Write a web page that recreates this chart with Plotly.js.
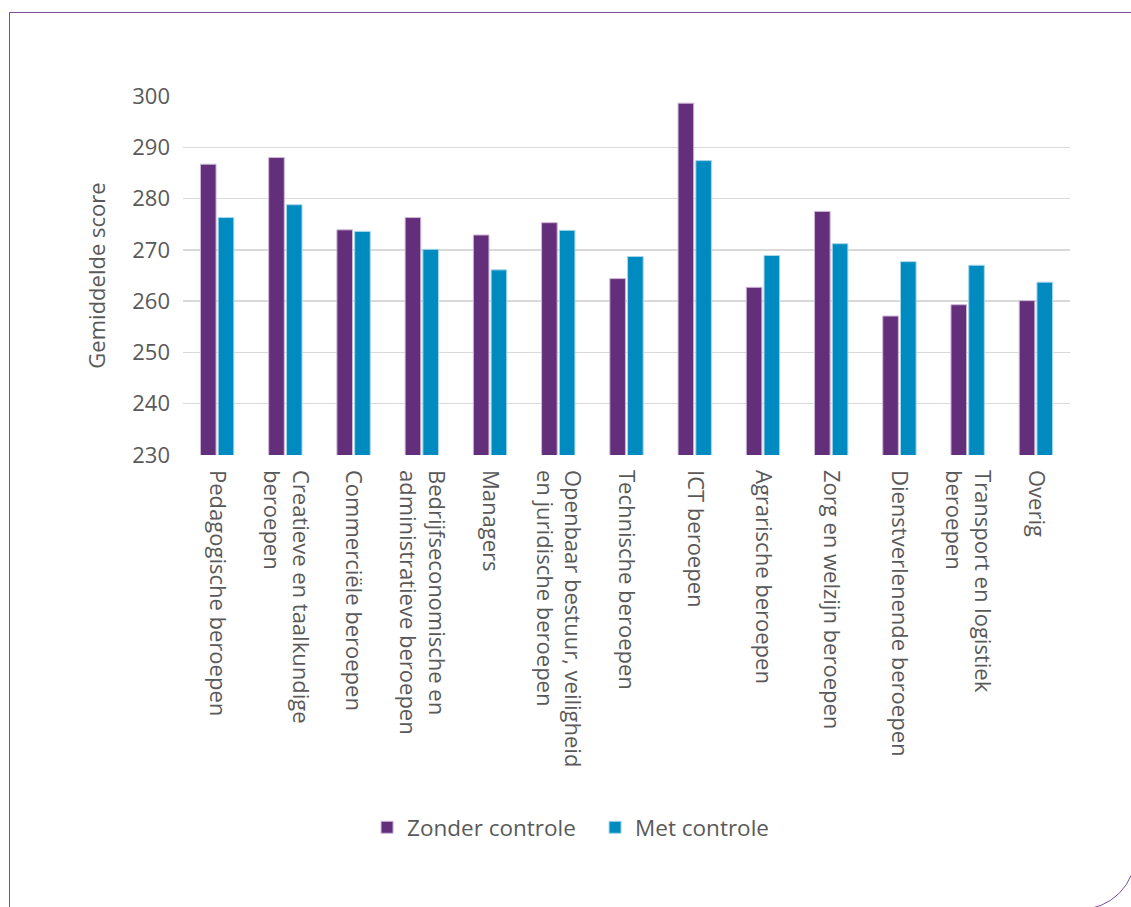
<!DOCTYPE html>
<html>
<head>
<meta charset="utf-8">
<script src="https://cdn.plot.ly/plotly-3.0.1.min.js"></script>
<style>
  html, body { margin: 0; padding: 0; background: #ffffff; overflow: hidden; }
  #frame {
    position: absolute; left: 9px; top: 12px; width: 1127px; height: 898px;
    border: 1.5px solid #7a4e9a; border-bottom-right-radius: 56px; box-sizing: border-box;
  }
  #chart { position: absolute; left: 0; top: 0; width: 1131px; height: 907px; }
</style>
</head>
<body>
<div id="frame"></div>
<div id="chart"></div>
<script>
const categories = [
  "Pedagogische beroepen",
  "Creatieve en taalkundige<br>beroepen",
  "Commerciële beroepen",
  "Bedrijfseconomische en<br>administratieve beroepen",
  "Managers",
  "Openbaar bestuur, veiligheid<br>en juridische beroepen",
  "Technische beroepen",
  "ICT beroepen",
  "Agrarische beroepen",
  "Zorg en welzijn beroepen",
  "Dienstverlenende beroepen",
  "Transport en logistiek<br>beroepen",
  "Overig"
];
const zonderControle = [286.7, 288.0, 273.9, 276.3, 272.9, 275.3, 264.4, 298.6, 262.7, 277.5, 257.1, 259.3, 260.1];
const metControle    = [276.3, 278.8, 273.6, 270.1, 266.1, 273.8, 268.7, 287.4, 268.9, 271.2, 267.7, 267.0, 263.7];
const seriesNames = ["Zonder controle", "Met controle"];
const yTicks = [230, 240, 250, 260, 270, 280, 290, 300];

const FONT = "'Open Sans', 'Noto Sans', sans-serif";
const TXT = "#595959";

const traces = [
  {
    type: "bar", name: seriesNames[0], x: categories, y: zonderControle,
    marker: { color: "#642f7a", line: { color: "#cbb8d6", width: 1 } }
  },
  {
    type: "bar", name: seriesNames[1], x: categories, y: metControle,
    marker: { color: "#008bc0", line: { color: "#a6d7ea", width: 1 } }
  }
];

const layout = {
  width: 1131, height: 907,
  paper_bgcolor: "rgba(0,0,0,0)", plot_bgcolor: "rgba(0,0,0,0)",
  margin: { l: 183, r: 61, t: 96, b: 452 },
  barmode: "group", bargap: 0.48, bargroupgap: 0.12,
  font: { family: FONT, color: TXT, size: 22 },
  showlegend: true,
  legend: {
    orientation: "h", x: 0.2075, xanchor: "left", y: -1.038, yanchor: "middle",
    font: { family: FONT, size: 22.5, color: TXT }, itemwidth: 30,
    entrywidth: 183, entrywidthmode: "pixels"
  },
  xaxis: {
    type: "category", tickangle: 90, showgrid: false, zeroline: false,
    showline: false, ticks: "", ticklabelstandoff: 14,
    tickfont: { family: FONT, size: 22, color: TXT },
    automargin: false
  },
  yaxis: {
    range: [230, 300], tickvals: yTicks, ticktext: yTicks.map(String),
    showgrid: true, gridcolor: "#d9d9d9", gridwidth: 1.5, zeroline: false,
    showline: false, ticks: "", ticklabelstandoff: 12,
    tickfont: { family: FONT, size: 22, color: TXT },
    title: { text: "Gemiddelde score", font: { family: FONT, size: 22, color: TXT }, standoff: 20 },
    automargin: false
  }
};

Plotly.newPlot("chart", traces, layout, { displayModeBar: false, staticPlot: true });
</script>
</body>
</html>
